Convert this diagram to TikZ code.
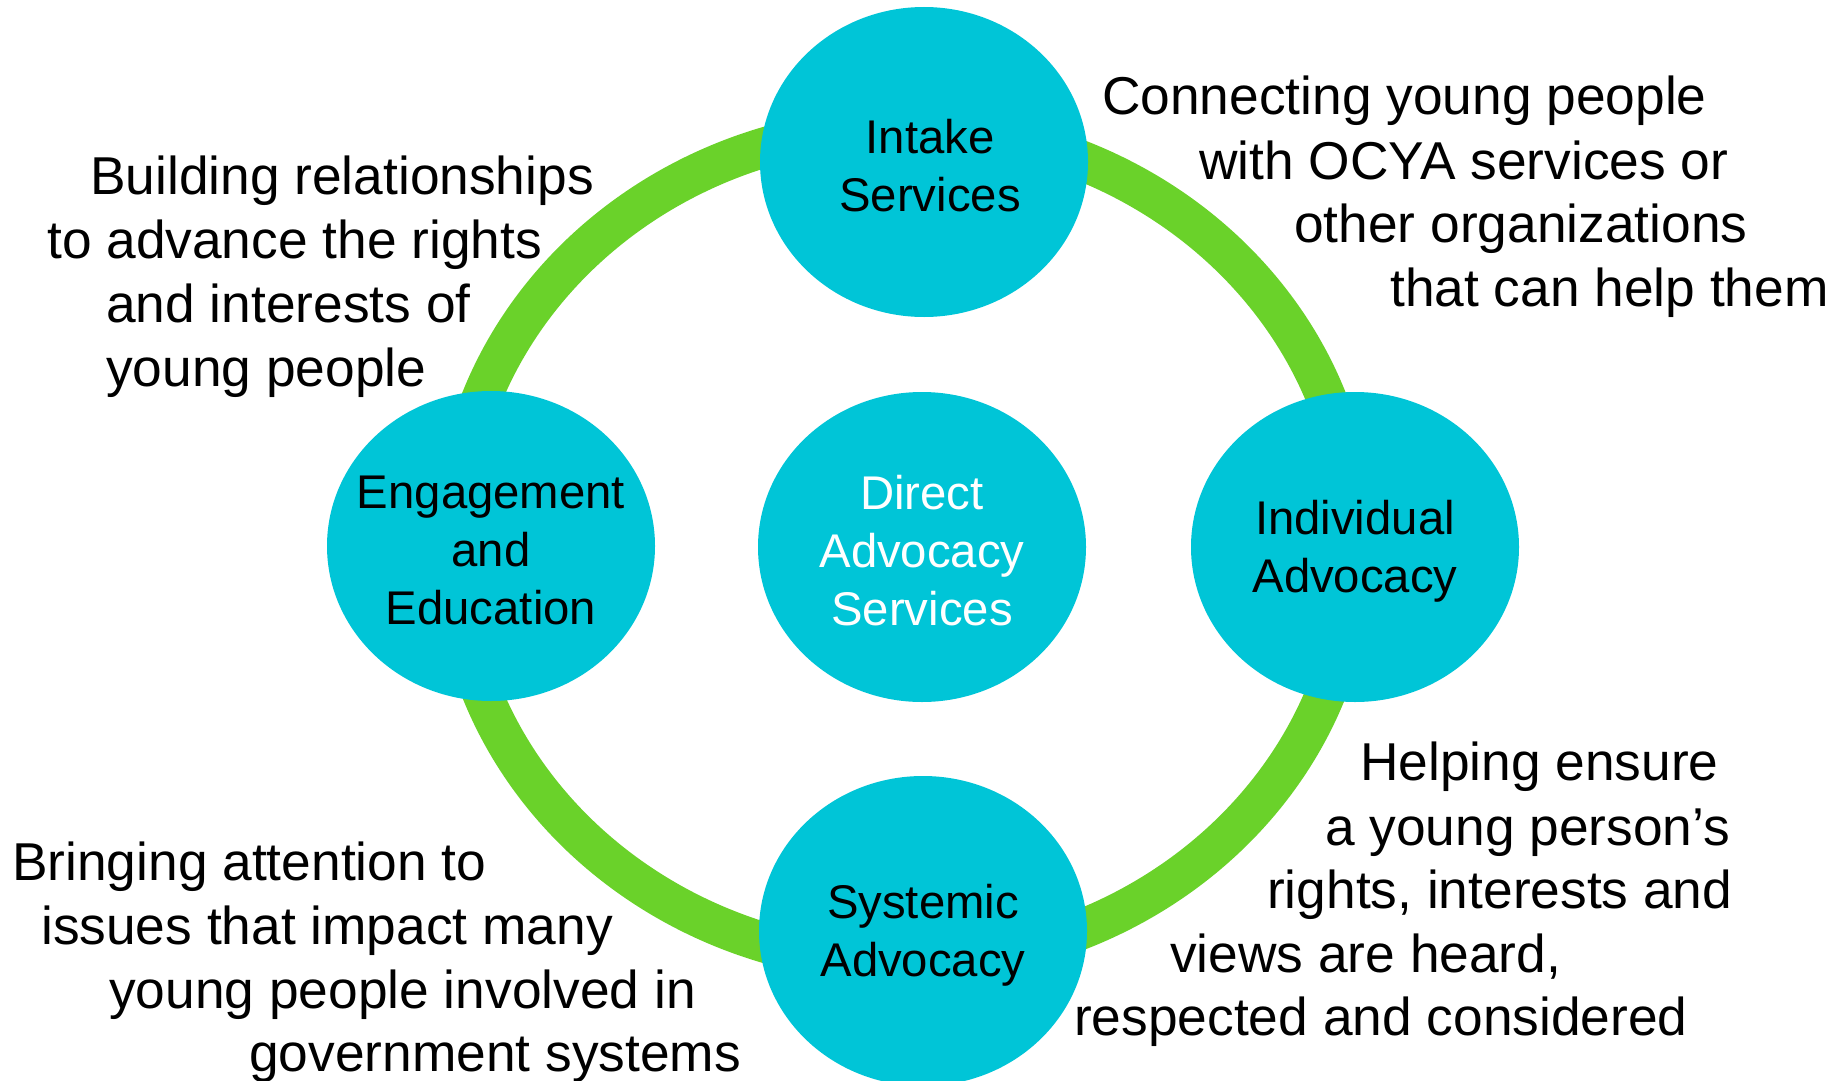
\documentclass[tikz,border=0pt]{standalone}
\usepackage{fontspec}
\setmainfont{Liberation Sans}
\usetikzlibrary{shapes.geometric}
\definecolor{aqua}{RGB}{0,197,215}
\definecolor{leaf}{RGB}{106,210,42}
\begin{document}
\begin{tikzpicture}[x=1pt,y=-1pt,
  bubble/.style={ellipse, fill=aqua, draw=none, minimum width=328pt, minimum height=310pt, inner sep=0pt},
  lbl/.style={align=center, inner sep=0pt, yshift=-4pt, font=\fontsize{47.3}{58}\selectfont},
  desc/.style={anchor=base west, inner sep=0pt, yshift=-2pt, font=\fontsize{53.3}{64}\selectfont}]
\fill[white] (0,0) rectangle (1839,1081);
\useasboundingbox (0,0) rectangle (1839,1081);
\clip (0,0) rectangle (1839,1081);
\coordinate (ringc) at (904,545);
\draw[leaf, line width=40pt] (ringc) ellipse [x radius=451pt, y radius=418pt];

\node[bubble, label={[lbl, xshift=6pt]center:Intake\\Services}] (intake) at (924,162) {};
\node[bubble, label={[lbl, text=white]center:Direct\\Advocacy\\Services}] (direct) at (922,547) {};
\node[bubble, label={[lbl]center:Systemic\\Advocacy}] (systemic) at (923,931) {};
\node[bubble, label={[lbl]center:Engagement\\and\\Education}] (engage) at (491,546) {};
\node[bubble, label={[lbl]center:Individual\\Advocacy}] (indiv) at (1355,547) {};

% top-left
\node[desc] (tl1) at (90,192) {Building relationships};
\node[desc] (tl2) at (47,256) {to advance the rights};
\node[desc] (tl3) at (106,320) {and interests of};
\node[desc] (tl4) at (106,384) {young people};
% top-right
\node[desc] (tr1) at (1102,112) {Connecting young people};
\node[desc] (tr2) at (1199,177) {with OCYA services or};
\node[desc] (tr3) at (1294,240) {other organizations};
\node[desc] (tr4) at (1390,304) {that can help them};
% bottom-left
\node[desc] (bl1) at (12,878) {Bringing attention to};
\node[desc] (bl2) at (41,942) {issues that impact many};
\node[desc] (bl3) at (109,1006) {young people involved in};
\node[desc] (bl4) at (249,1069) {government systems};
% bottom-right
\node[desc] (br1) at (1360,778) {Helping ensure};
\node[desc] (br2) at (1325,843) {a young person’s};
\node[desc] (br3) at (1267,906) {rights, interests and};
\node[desc] (br4) at (1170,970) {views are heard,};
\node[desc] (br5) at (1074,1033) {respected and considered};
\end{tikzpicture}
\end{document}
